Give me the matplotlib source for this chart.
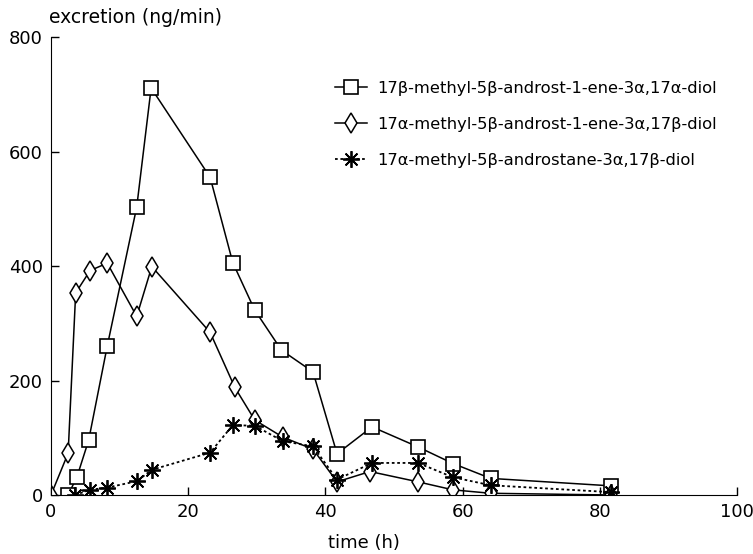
import numpy as np
from matplotlib import pyplot as plt

# 17b-methyl-5b-androst-1-ene-3a,17a-diol
t_sq = [2.5, 3.8, 5.5, 8.2, 12.5, 14.6, 23.2, 26.5, 29.7, 33.6, 38.2, 41.7, 46.8, 53.5, 58.6, 64.1, 81.6]
v_sq = [0, 32, 96, 260, 503, 711, 555, 406, 323, 253, 215, 72, 119, 84, 55, 29, 16]

# 17a-methyl-5b-androst-1-ene-3a,17b-diol
t_di = [0, 2.5, 3.6, 5.7, 8.2, 12.5, 14.7, 23.2, 26.8, 29.7, 33.8, 38.2, 41.7, 46.5, 53.5, 58.6, 64.1, 81.6]
v_di = [0, 73, 353, 392, 405, 312, 399, 284, 188, 131, 101, 80, 23, 41, 23, 9, 3, 0]

# 17a-methyl-5b-androstane-3a,17b-diol
t_st = [3.5, 5.7, 8.2, 12.5, 14.7, 23.2, 26.5, 29.7, 33.8, 38.2, 41.7, 46.8, 53.5, 58.6, 64.1, 81.6]
v_st = [0, 9, 13, 24, 44, 74, 122, 121, 94, 85, 27, 56, 56, 31, 17, 5]

labels = ["17\u03b2-methyl-5\u03b2-androst-1-ene-3\u03b1,17\u03b1-diol",
          "17\u03b1-methyl-5\u03b2-androst-1-ene-3\u03b1,17\u03b2-diol",
          "17\u03b1-methyl-5\u03b2-androstane-3\u03b1,17\u03b2-diol"]

plt.rcParams['font.family'] = ['DejaVu Sans']

fig = plt.figure(figsize=(7.53, 5.54), dpi=100)
ax = fig.add_axes([0.0677, 0.1065, 0.911, 0.8267])

ax.plot(t_sq, v_sq, color='black', lw=1.1, marker='s', ms=10, mfc='white', mec='black', mew=1.2,
        label=labels[0])
ax.plot(t_di, v_di, color='black', lw=1.1, marker='d', ms=10, mfc='white', mec='black', mew=1.1,
        label=labels[1])
ax.plot(t_st, v_st, color='black', lw=1.3, ls=(0, (1.5, 1.5)), marker=(8, 2, 0), ms=12,
        mec='black', mew=1.3, label=labels[2])

ax.set_xlim(0, 100)
ax.set_ylim(0, 800)
ax.set_xticks([0, 20, 40, 60, 80, 100])
ax.set_yticks([0, 200, 400, 600, 800])
ax.spines['top'].set_visible(False)
ax.spines['right'].set_visible(False)
ax.tick_params(direction='in', length=6, width=1, labelsize=13, pad=6)

ax.set_xlabel("time (h)", fontsize=13)
ax.xaxis.set_label_coords(0.456, -0.085)
ax.text(-0.003, 1.022, "excretion (ng/min)", transform=ax.transAxes, fontsize=13.5, ha='left', va='bottom')

ax.legend(loc='upper left', bbox_to_anchor=(0.392, 0.937), frameon=False, fontsize=11.8,
          handlelength=2.0, labelspacing=1.3, handletextpad=0.6, borderpad=0.4)

fig.savefig("out.png", dpi=100)
